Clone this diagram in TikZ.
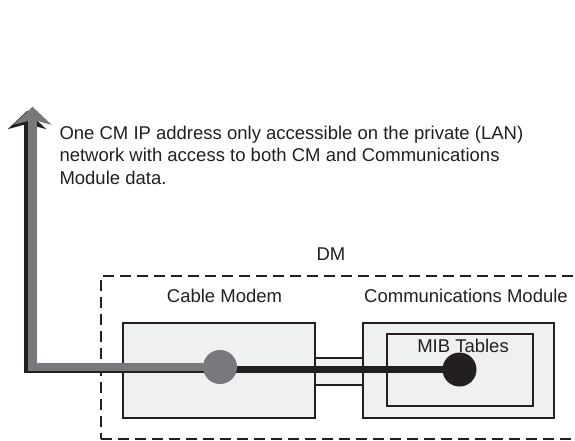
\documentclass[tikz,border=0pt]{standalone}
\usepackage{fontspec}
\setmainfont{Liberation Sans}
\usetikzlibrary{arrows.meta,positioning}
\definecolor{modemblack}{RGB}{35,31,32}
\definecolor{modemgray}{RGB}{120,121,124}
\definecolor{modemfill}{RGB}{239,240,241}

\begin{document}
\begin{tikzpicture}[x=1pt,y=-1pt,line join=miter,
  every node/.style={text=modemblack,font=\fontsize{18.5}{22.5}\selectfont},
  unit/.style={draw=modemblack,line width=2pt,fill=modemfill,inner sep=0pt},
  dot/.style={circle,minimum size=34pt,inner sep=0pt},
  pointer/.style={-{Stealth[length=18pt,width=38pt,inset=5pt]}}]
 \useasboundingbox (0,0) rectangle (575,440);
 \clip (0,0) rectangle (575,440);
 \node[draw=modemblack,line width=2pt,dash pattern=on 11pt off 6pt,
  minimum width=520pt,minimum height=163pt,inner sep=0pt,anchor=north west]
  (dm) at (100,275) {};
 \node[anchor=base] (dmlabel) at (331,260) {DM};
 \node[draw=modemblack,line width=1.2pt,fill=modemfill,
  minimum width=48pt,minimum height=27pt,inner sep=0pt] (link) at (339,371.5) {};
 \node[unit,minimum width=192pt,minimum height=95pt] (modem) at (219,370.5) {};
 \node[unit,minimum width=191pt,minimum height=95pt] (comms) at (458.5,370.5) {};
 \node[unit,minimum width=146pt,minimum height=72pt] (mib) at (460,370) {};
 \node[anchor=base] (modemlabel) at (224.5,302.7) {Cable Modem};
 \node[anchor=base] (commslabel) at (466,302.7) {Communications Module};
 \node[anchor=base] (miblabel) at (463,352.7) {MIB Tables};
 \node[anchor=north west,align=left,inner sep=0pt] (note) at (59.3,125.5)
  {One CM IP address only accessible on the private (LAN)\\
   network with access to both CM and Communications\\
   Module data.};
 \coordinate (cmport) at (220,367);
 \coordinate (mibport) at (459.5,369.5);
 \coordinate (graytip) at (32.5,106.7);
 \coordinate (blacktip) at (27,111);
 \draw[modemblack,line width=7pt,pointer] (mibport) -| (blacktip);
 \draw[modemgray,line width=8.5pt,pointer] (cmport) -| (graytip);
 \node[dot,fill=modemgray] (graydot) at (cmport) {};
 \node[dot,fill=modemblack] (blackdot) at (mibport) {};
\end{tikzpicture}
\end{document}
